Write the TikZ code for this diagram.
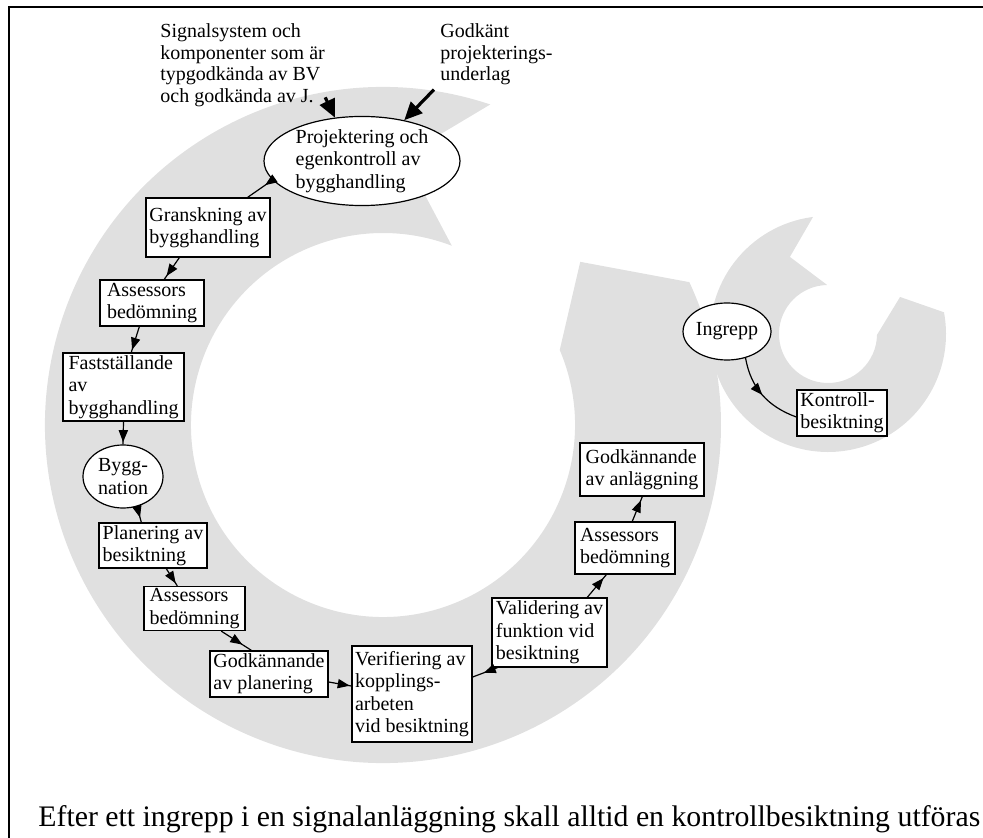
\documentclass[tikz,border=0pt]{standalone}
\usepackage{fontspec}
\setmainfont{Liberation Serif}
\usetikzlibrary{positioning,shapes.geometric,arrows.meta,decorations.markings}
\definecolor{ringgray}{RGB}{224,224,224}

\begin{document}
\begin{tikzpicture}[x=0.5pt,y=-0.5pt,font=\fontsize{10}{11.2}\selectfont,
	bnode/.style={rectangle,draw=black,fill=white,line width=0.7pt,align=left,inner xsep=1.5pt,inner ysep=1pt},
	enode/.style={ellipse,draw=black,fill=white,line width=0.6pt,align=left,inner sep=0pt},
	flow/.style={line width=0.6pt,postaction={decorate},
		decoration={markings,mark=at position #1 with {\arrow{Triangle[length=6pt,width=4.6pt]}}}},
	flow/.default=0.85,
	feed/.style={line width=1.6pt,-{Triangle[length=9pt,width=8pt]}}]
	\useasboundingbox (0,0) rectangle (983,838);
	% grey ring arrows
	\begin{scope}[shift={(383,425)}]
		\fill[ringgray] (-71.5:338) arc[start angle=-71.5,end angle=-385,radius=338]
			-- (-399.6:256) -- (-383:192) arc[start angle=-383,end angle=-69,radius=192]
			-- (-85.5:270) -- cycle;
	\end{scope}
	\begin{scope}[shift={(828,334)}]
		\fill[ringgray] (-97.3:118) arc[start angle=-97.3,end angle=-370.6,radius=118]
			-- (-387.2:81) -- (-359:49) arc[start angle=-359,end angle=-91,radius=49]
			-- (-116.3:86) -- cycle;
	\end{scope}
	\draw[line width=1pt] (983,7) -- (9,7) -- (9,838);
	% inputs
	\node[align=left,inner sep=0pt,anchor=north west,font=\fontsize{10}{10.9}\selectfont] (sigtxt) at (160,23)
		{Signalsystem och\\komponenter som är\\typgodkända av BV\\och godkända av J.};
	\node[align=left,inner sep=0pt,anchor=north west,font=\fontsize{10}{10.9}\selectfont] (godtxt) at (440,23)
		{Godkänt\\projekterings-\\underlag};
	% steps
	\node[enode,minimum width=98pt,minimum height=44pt] (proj) at (362,161) {Projektering och\\egenkontroll av\\bygghandling};
	\node[bnode,minimum width=62pt,minimum height=29.5pt] (gran) at (208,227.5) {Granskning av\\bygghandling};
	\node[bnode,minimum width=52pt,minimum height=23pt] (ass1) at (152,303) {Assessors\\bedömning};
	\node[bnode,minimum width=60.5pt,minimum height=34pt] (fast) at (123.5,387) {Fastställande\\av\\bygghandling};
	\node[enode,minimum width=40pt,minimum height=31.5pt] (bygg) at (123,476.5) {Bygg-\\nation};
	\node[bnode,minimum width=54pt,minimum height=22.5pt] (plan) at (153,545.5) {Planering av\\besiktning};
	\node[bnode,minimum width=50.5pt,minimum height=21.5pt] (ass2) at (194.5,608.5) {Assessors\\bedömning};
	\node[bnode,minimum width=59pt,minimum height=23pt] (godk1) at (269,674) {Godkännande\\av planering};
	\node[bnode,minimum width=60pt,minimum height=48pt] (verif) at (412,694) {Verifiering av\\kopplings-\\arbeten\\vid besiktning};
	\node[bnode,minimum width=57.5pt,minimum height=34.5pt] (valid) at (549.5,632.5) {Validering av\\funktion vid\\besiktning};
	\node[bnode,minimum width=50pt,minimum height=26pt] (ass3) at (625,548) {Assessors\\bedömning};
	\node[bnode,minimum width=62pt,minimum height=26.5pt] (godk2) at (642,469.5) {Godkännande\\av anläggning};
	\node[enode,minimum width=40pt,minimum height=28.5pt] (ingr) at (727,331.5) {Ingrepp};
	\node[bnode,minimum width=45pt,minimum height=23pt] (kontr) at (842,413) {Kontroll-\\besiktning};
	% connectors
	\draw[feed] ([yshift=5pt]sigtxt.south east) -- (proj.122);
	\draw[feed] ([xshift=-3pt,yshift=-2pt]godtxt.south west) -- (proj.44);
	\draw[flow=0.3] (proj.192) -- ([xshift=-11.5pt]gran.north east);
	\draw[flow] ([xshift=17pt]gran.south west) -- ([xshift=32.5pt]ass1.north west);
	\draw[flow=0.9] ([xshift=20pt]ass1.south west) -- ([xshift=34.5pt]fast.north west);
	\draw[flow=0.9] (fast.south) -- (bygg.north);
	\draw[flow=0.7] (bygg.-65) -- ([xshift=21.5pt]plan.north west);
	\draw[flow] ([xshift=34pt]plan.south west) -- ([xshift=17pt]ass2.north west);
	\draw[flow=0.7] ([xshift=39pt]ass2.south west) -- ([xshift=21pt]godk1.north west);
	\draw[flow=0.93] ([yshift=-4pt]godk1.east) -- ([yshift=4pt]verif.west);
	\draw[flow=0.55] ([xshift=3pt]valid.south west) -- ([yshift=8.5pt]verif.east);
	\draw[flow] ([xshift=48pt]valid.north west) -- ([xshift=16pt]ass3.south west);
	\draw[flow] ([xshift=29pt]ass3.north west) -- ([xshift=31.5pt]godk2.south west);
	\draw[flow=0.5] (ingr.-55) to[out=-80,in=160] ([yshift=-2pt]kontr.west);
	% note
	\node[anchor=base west,inner sep=0pt,font=\fontsize{14.9}{18}\selectfont] (note) at (38,826)
		{Efter ett ingrepp i en signalanläggning skall alltid en kontrollbesiktning utföras};
\end{tikzpicture}
\end{document}
